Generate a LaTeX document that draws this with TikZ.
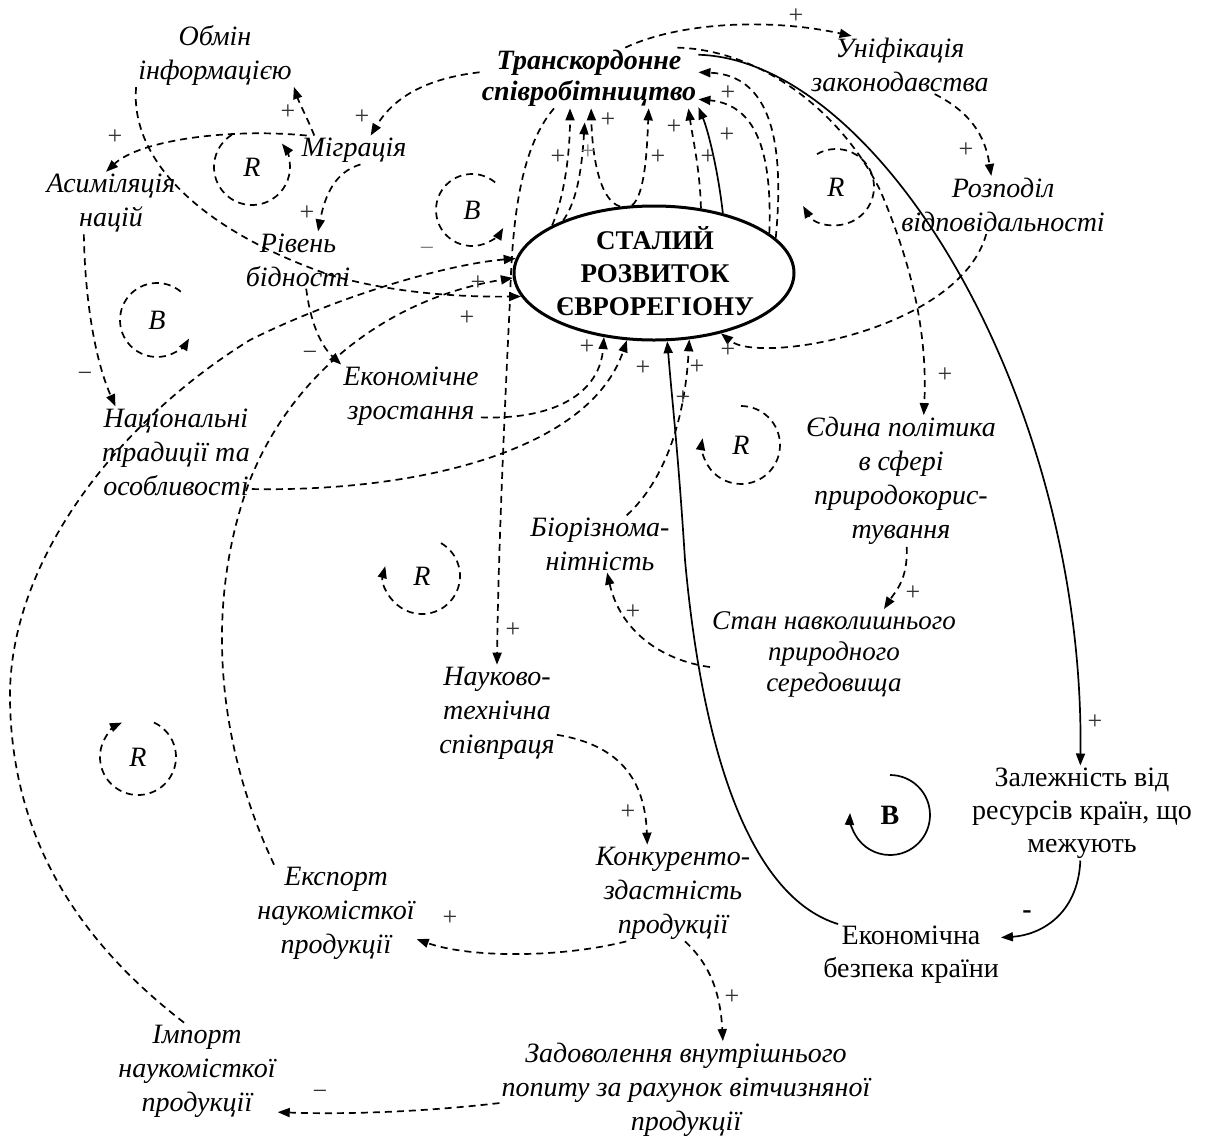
\documentclass[tikz,border=0pt]{standalone}
\usepackage{fontspec}
\setmainfont{Liberation Serif}
\usetikzlibrary{arrows.meta,shapes.geometric}

\begin{document}
\begin{tikzpicture}[x=1pt,y=-1pt,>={Triangle[length=12pt,width=9pt]}]
  \tikzstyle{factor}=[font=\fontsize{28}{34}\selectfont\itshape, align=center, inner sep=2pt]
  \tikzstyle{plainfactor}=[font=\fontsize{28}{33}\selectfont, align=center, inner sep=2pt]
  \tikzstyle{keyfactor}=[font=\fontsize{28}{31}\selectfont\bfseries\itshape, align=center, inner sep=2pt]
  \tikzstyle{causal}=[->, line width=1.7pt, dash pattern=on 7pt off 5pt]
  \tikzstyle{causalsolid}=[->, line width=1.7pt]
  \tikzstyle{loopline}=[->, line width=1.7pt, dash pattern=on 7pt off 5pt]
  \tikzstyle{looplabel}=[font=\fontsize{28}{28}\selectfont\itshape, inner sep=0pt]
  \tikzstyle{polarity}=[font=\fontsize{26}{26}\selectfont, text=black!80, inner sep=0pt]

  \path[use as bounding box] (0,0) rectangle (1215,1141);

  % Central variable
  \node[draw, ellipse, line width=3pt, minimum width=280pt, minimum height=134pt, inner sep=0pt] (sustain) at (654,273) {};
  \node[font=\fontsize{27}{33}\selectfont\bfseries, align=center] (sustaintxt) at (655,271) {СТАЛИЙ\\РОЗВИТОК\\ЄВРОРЕГІОНУ};

  % Other variables
  \node[factor] (obmin) at (215,55) {Обмін\\інформацією};
  \node[keyfactor] (transk) at (589,78) {Транскордонне\\співробітництво};
  \node[factor] (unif) at (900,65) {Уніфікація\\законодавства};
  \node[factor] (migr) at (354,150) {Міграція};
  \node[factor] (asim) at (111,203) {Асиміляція\\націй};
  \node[factor] (bidn) at (298,260) {Рівень\\бідності};
  \node[factor] (rozpod) at (1003,205) {Розподіл\\відповідальності};
  \node[factor] (ekzr) at (411,396) {Економічне\\зростання};
  \node[factor] (nactr) at (176,452) {Національні\\традиції та\\особливості};
  \node[factor] (polit) at (901,481) {Єдина політика\\в сфері\\природокорис-\\тування};
  \node[factor] (bioriz) at (600,544) {Біорізнома-\\нітність};
  \node[factor, font=\fontsize{27}{31}\selectfont\itshape] (stan) at (834,654) {Стан навколишнього\\природного\\середовища};
  \node[factor] (nauk) at (497,713) {Науково-\\технічна\\співпраця};
  \node[plainfactor] (zalezh) at (1082,813) {Залежність від\\ресурсів країн, що\\межують};
  \node[factor] (konk) at (673,893) {Конкуренто-\\здастність\\продукції};
  \node[factor] (eksp) at (336,913) {Експорт\\наукомісткої\\продукції};
  \node[plainfactor] (ekbez) at (911,955) {Економічна\\безпека країни};
  \node[factor] (import) at (197,1071) {Імпорт\\наукомісткої\\продукції};
  \node[factor] (zadov) at (686,1090) {Задоволення внутрішнього\\попиту за рахунок вітчизняної\\продукції};

  % Loop markers
  \foreach \nm/\cx/\cy/\lab/\a/\b/\r in {
    loopRa/252/167/R/122/398/38, loopBa/472/210/B/50/330/36,
    loopBb/157/320/B/50/330/37, loopRb/836/187/R/120/-150/38,
    loopRc/741/445/R/90/-190/39, loopRd/422/576/R/60/-195/38,
    loopRe/138/757/R/65/-245/38
  } {
    \node[looplabel] (\nm) at (\cx,\cy) {\lab};
    \draw[loopline] ([shift={(\a:\r pt)}]\nm.center) arc[start angle=\a, end angle=\b, radius=\r pt];
  }
  \node[font=\fontsize{28}{28}\selectfont\bfseries, inner sep=0pt] (loopBs) at (890,815) {B};
  \draw[causalsolid] ([shift={(90:40pt)}]loopBs.center) arc[start angle=90, end angle=-183, radius=40pt];

  % Links out of cross-border cooperation
  \draw[causal] (transk.40) .. controls (680,22) and (770,18) .. (unif.149);
  \draw[causal] (unif.-40) .. controls (970,112) and (985,135) .. (rozpod.112);
  \draw[causal] (rozpod.240) .. controls (960,330) and (760,365) .. (sustain.318);
  \draw[causal] (transk.19) .. controls (760,50) and (840,110) .. (880,190)
    .. controls (910,260) and (928,330) .. (polit.71);
  \draw[causalsolid] (transk.12) .. controls (880,60) and (1085,400) .. (zalezh.92);
  \draw[causal] (transk.177) .. controls (430,78) and (395,95) .. (migr.41);
  \draw[causal] (transk.221) .. controls (518,150) and (512,230) .. (510,300)
    .. controls (505,400) and (498,560) .. (nauk.north);

  % Links from sustainable development back to cooperation
  \draw[causal] (sustain.155) .. controls (565,195) and (570,150) .. (transk.238);
  \draw[causal] (sustain.150) .. controls (578,200) and (582,165) .. ([yshift=-14pt]transk.262);
  \draw[causal] (sustain.117) .. controls (598,200) and (592,150) .. (transk.274);
  \draw[causal] (sustain.108) .. controls (645,195) and (647,150) .. (transk.-27);
  \draw[causal] (sustain.54) .. controls (700,170) and (693,140) .. (transk.-17);
  \draw[causalsolid] (sustain.41) .. controls (718,170) and (708,130) .. (transk.-15);
  \draw[causal] (sustain.19) .. controls (772,160) and (760,105) .. (transk.-11);
  \draw[causal] (sustain.16) .. controls (785,140) and (770,75) .. (transk.3);

  % Migration block
  \draw[causal] (migr.160) .. controls (306,115) and (300,105) .. (obmin.-22);
  \draw[causal] (migr.163) .. controls (230,128) and (140,140) .. (asim.99);
  \draw[causal] (migr.-66) .. controls (335,172) and (325,195) .. (bidn.55);
  \draw[causal] (obmin.south west) .. controls (130,160) and (200,230) .. (330,275)
    .. controls (400,295) and (470,297) .. (sustain.190);
  \draw[causal] (bidn.-74) .. controls (310,320) and (320,345) .. (ekzr.north west);
  \draw[causal] (asim.229) .. controls (85,300) and (95,360) .. (nactr.143);

  % Links into sustainable development from below
  \draw[causal] (import.105) .. controls (90,950) and (12,850) .. (10,700)
    .. controls (8,560) and (120,420) .. (250,340)
    .. controls (330,300) and (440,265) .. (sustain.174);
  \draw[causal] (eksp.142) .. controls (215,740) and (205,600) .. (250,480)
    .. controls (290,380) and (380,300) .. (sustain.182);
  \draw[causal] (nactr.-26) .. controls (420,492) and (590,450) .. (sustain.248);
  \draw[causal] (ekzr.-17) .. controls (560,420) and (600,390) .. (sustain.232);
  \draw[causal] (bioriz.47) .. controls (665,480) and (685,420) .. (sustain.298);
  \draw[causalsolid] (ekbez.157) .. controls (760,900) and (705,780) .. (685,560)
    .. controls (678,450) and (672,400) .. (sustain.281);

  % Environment and economy chains
  \draw[causal] (polit.-85) .. controls (908,580) and (895,592) .. (stan.42);
  \draw[causal] (stan.186) .. controls (660,660) and (620,630) .. (bioriz.-76);
  \draw[causal] (nauk.-20) .. controls (620,745) and (645,780) .. (konk.118);
  \draw[causal] (konk.226) .. controls (560,958) and (470,958) .. (eksp.-18);
  \draw[causal] (konk.-76) .. controls (705,960) and (720,985) .. (zadov.53);
  \draw[causal] (zadov.184) .. controls (440,1110) and (360,1115) .. (import.-27);
  \draw[causalsolid] (zalezh.268) .. controls (1078,915) and (1040,935) .. (ekbez.11);

  % Polarities
  \foreach \x/\y/\s [count=\i] in {
    796/16/+, 966/150/+, 728/350/+, 945/375/+, 1095/722/+,
    558/157/+, 608/120/+, 658/157/+, 674/127/+, 708/157/+, 727/135/+, 728/93/+,
    362/117/+, 288/112/+, 115/137/+, 307/213/+, 478/283/+, 467/318/+,
    310/356/−, 85/377/−, 587/347/+, 643/368/+, 697/367/+, 683/398/+,
    913/593/+, 633/612/+, 513/630/+, 628/812/+, 450/918/+, 732/997/+, 320/1095/−
  } {
    \node[polarity] (pol\i) at (\x,\y) {\s};
  }
  \node[polarity, text=black!50] (polgrA) at (588,152) {+};
  \node[polarity, text=black!50] (polgrB) at (427,252) {−};
  \node[font=\fontsize{28}{28}\selectfont\bfseries, inner sep=0pt] (polbez) at (1027,915) {-};
\end{tikzpicture}
\end{document}
